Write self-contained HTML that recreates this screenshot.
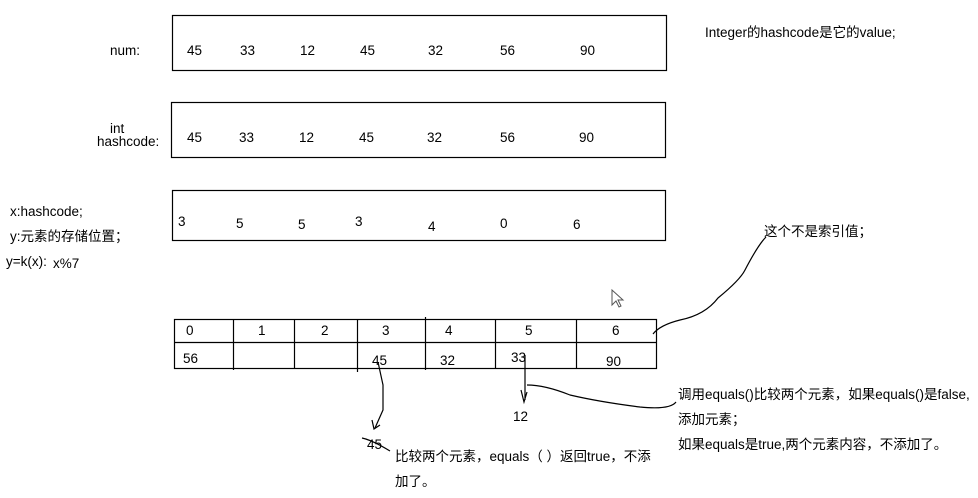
<!DOCTYPE html>
<html><head><meta charset="utf-8"><style>
html,body{margin:0;padding:0;background:#fff;}
svg{display:block;}
text{font-family:"Liberation Sans","Noto Sans CJK SC",sans-serif;font-size:13.5px;fill:#000;}
</style></head><body>
<svg width="978" height="498" xmlns="http://www.w3.org/2000/svg">
<g fill="none" stroke="#000" stroke-width="1.2">
<rect x="172.5" y="15.5" width="494" height="55"/>
<rect x="171.5" y="102.5" width="494" height="55"/>
<rect x="172.5" y="190.5" width="493" height="50"/>
<rect x="174.5" y="319.5" width="482" height="49"/>
<line x1="174" y1="342.5" x2="657" y2="342.5"/>
<line x1="233.5" y1="319" x2="233.5" y2="370"/>
<line x1="294.5" y1="319" x2="294.5" y2="369"/>
<line x1="357.5" y1="319" x2="357.5" y2="372"/>
<line x1="425.5" y1="317" x2="425.5" y2="370"/>
<line x1="495.5" y1="319" x2="495.5" y2="369"/>
<line x1="576.5" y1="319" x2="576.5" y2="369"/>
<path d="M653,334 Q660,325 680,320 Q705,315 718,298 Q740,280 745,270 Q758,245 766,237"/>
<path d="M525,355 L525,400 M521,390 L524,402 L527,392"/>
<path d="M527,385 Q545,385 570,395 Q600,402 640,407 Q670,410 676,402"/>
<path d="M378,362 L383,385 L383,410 L375,428 M372,420 L374,429 L380,425"/>
<path d="M362,438 Q372,440 390,451"/>
</g>
<path d="M612,290 L612,305 L616,301 L619,307 L621,306 L618,300 L623,300 Z" fill="#fff" stroke="#555" stroke-width="1"/>
<text x="110" y="55">num:</text>
<text x="110" y="133">int</text>
<text x="97" y="146">hashcode:</text>
<text x="10" y="216">x:hashcode;</text>
<text x="10" y="241">y:元素的存储位置；</text>
<text x="6" y="266">y=k(x):</text>
<text x="53" y="268">x%7</text>
<text x="705" y="37">Integer的hashcode是它的value;</text>
<text x="764" y="236">这个不是索引值；</text>
<g>
<text x="187" y="55">45</text><text x="240" y="55">33</text><text x="300" y="55">12</text><text x="360" y="55">45</text><text x="428" y="55">32</text><text x="500" y="55">56</text><text x="580" y="55">90</text>
<text x="187" y="142">45</text><text x="239" y="142">33</text><text x="299" y="142">12</text><text x="359" y="142">45</text><text x="427" y="142">32</text><text x="500" y="142">56</text><text x="579" y="142">90</text>
<text x="178" y="226">3</text><text x="236" y="228">5</text><text x="298" y="229">5</text><text x="355" y="226">3</text><text x="428" y="231">4</text><text x="500" y="228">0</text><text x="573" y="229">6</text>
<text x="186" y="335">0</text><text x="258" y="335">1</text><text x="321" y="335">2</text><text x="382" y="335">3</text><text x="445" y="335">4</text><text x="525" y="335">5</text><text x="612" y="335">6</text>
<text x="183" y="363">56</text><text x="372" y="365">45</text><text x="440" y="365">32</text><text x="511" y="362">33</text><text x="606" y="366">90</text>
<text x="513" y="421">12</text>
<text x="367" y="449">45</text>
</g>
<text x="395" y="461">比较两个元素，equals（ ）返回true，不添</text>
<text x="395" y="486">加了。</text>
<text x="678" y="399">调用equals()比较两个元素，如果equals()是false,</text>
<text x="678" y="424">添加元素；</text>
<text x="678" y="449">如果equals是true,两个元素内容，不添加了。</text>
</svg>
</body></html>
